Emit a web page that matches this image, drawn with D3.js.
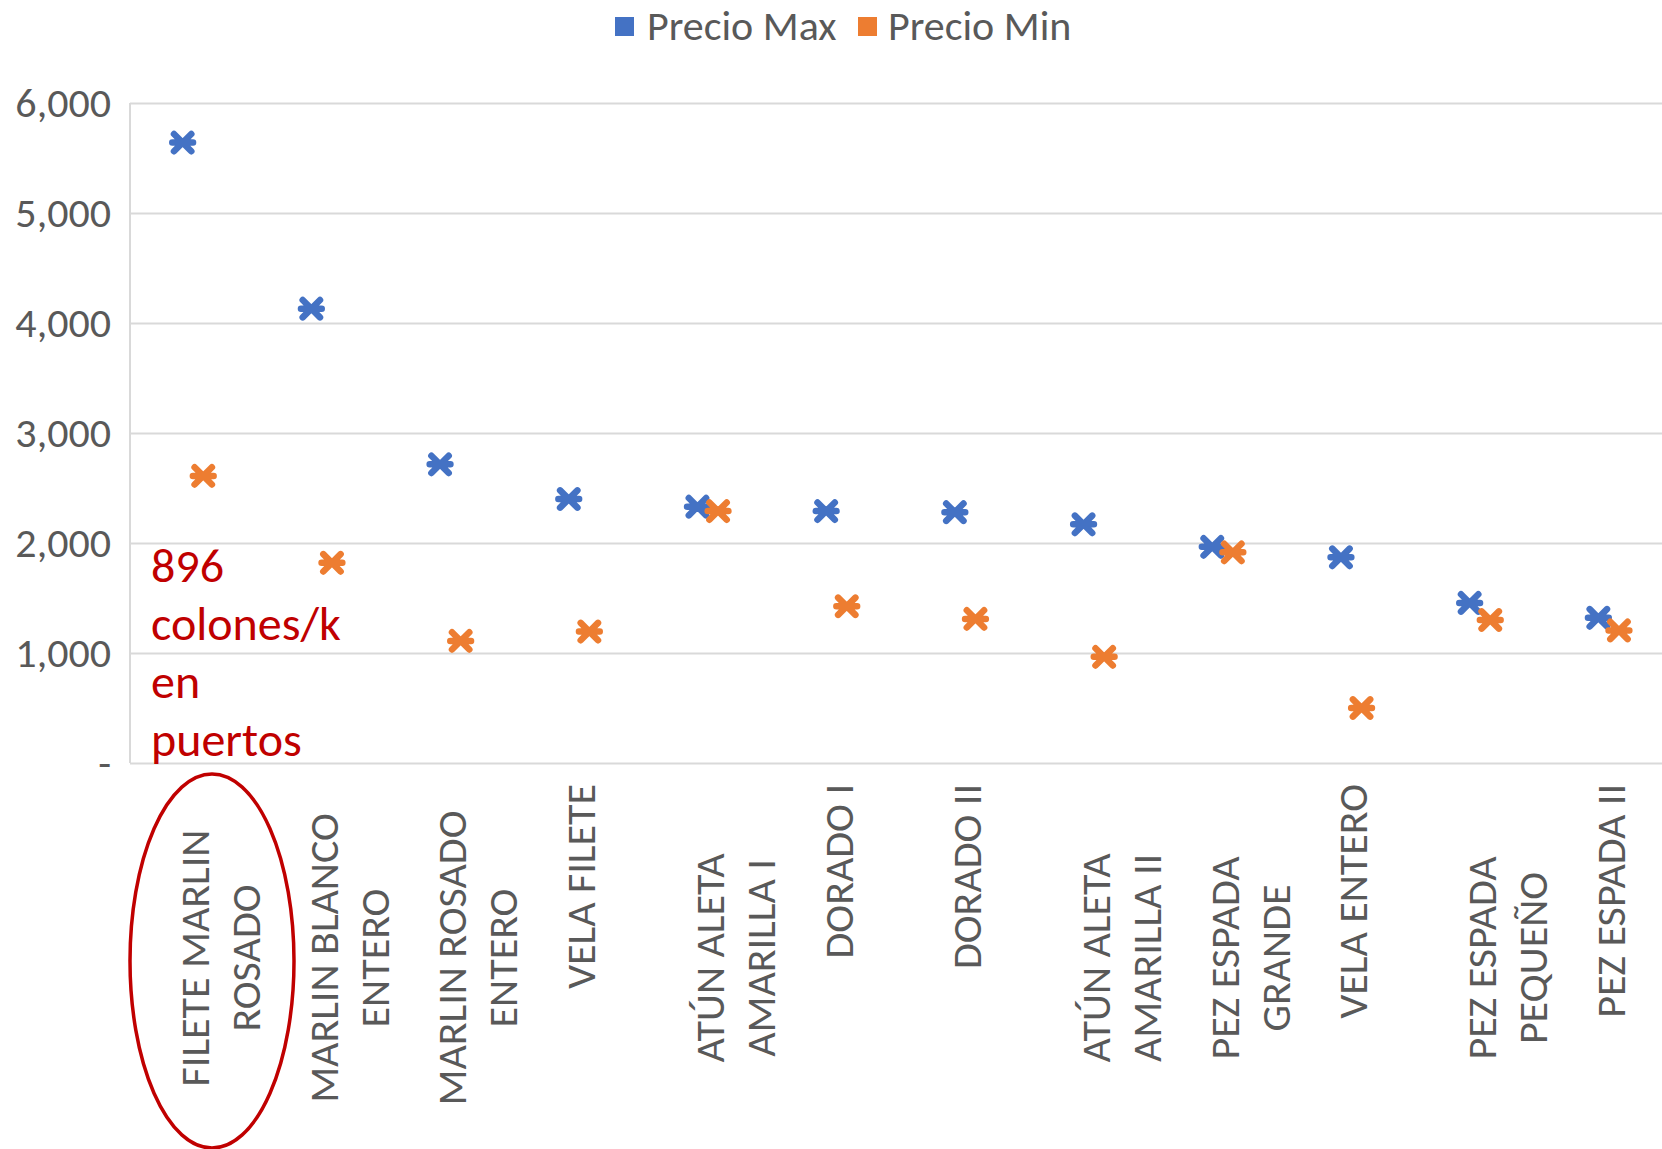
<!DOCTYPE html>
<html>
<head>
<meta charset="utf-8">
<script src="https://cdn.jsdelivr.net/npm/d3@7/dist/d3.min.js"></script>
<style>
  body { margin: 0; background: #fff; }
  text { font-family: Carlito, Calibri, Lato, sans-serif; }
</style>
</head>
<body>
<div id="chart"></div>
<script>
// data
const categories = [
  "FILETE MARLIN ROSADO", "MARLIN BLANCO ENTERO", "MARLIN ROSADO ENTERO", "VELA FILETE",
  "ATÚN ALETA AMARILLA I", "DORADO I", "DORADO II", "ATÚN ALETA AMARILLA II",
  "PEZ ESPADA GRANDE", "VELA ENTERO", "PEZ ESPADA PEQUEÑO", "PEZ ESPADA II"
];
const categoryLines = [
  ["FILETE MARLIN", "ROSADO"], ["MARLIN BLANCO", "ENTERO"], ["MARLIN ROSADO", "ENTERO"], ["VELA FILETE"],
  ["ATÚN ALETA", "AMARILLA I"], ["DORADO I"], ["DORADO II"], ["ATÚN ALETA", "AMARILLA II"],
  ["PEZ ESPADA", "GRANDE"], ["VELA ENTERO"], ["PEZ ESPADA", "PEQUEÑO"], ["PEZ ESPADA II"]
];
const seriesNames = ["Precio Max", "Precio Min"];
const precioMax = [5640, 4130, 2715, 2400, 2330, 2290, 2280, 2170, 1965, 1870, 1455, 1320];
const precioMin = [2610, 1820, 1110, 1195, 2290, 1425, 1310, 965, 1915, 500, 1300, 1205];
const yTicks = [0, 1000, 2000, 3000, 4000, 5000, 6000];
const noteLines = ["896", "colones/k", "en", "puertos"];

const colors = { "Precio Max": "#4472C4", "Precio Min": "#ED7D31" };
const textColor = "#595959";
const gridColor = "#D9D9D9";
const noteColor = "#C00000";
const fs = 42;

const W = 1662, H = 1149;
const plot = { left: 130, top: 103, bottom: 763, band: 128.7 };

const svg = d3.select("#chart")
  .append("svg")
  .attr("width", W)
  .attr("height", H);

// scales
const x = d3.scaleBand()
  .domain(categories)
  .range([plot.left, plot.left + plot.band * categories.length]);

const xs = d3.scalePoint()
  .domain(seriesNames)
  .range([-11.7, 8.9]);

const y = d3.scaleLinear()
  .domain([0, 6000])
  .range([plot.bottom, plot.top]);

const plotW = W - plot.left + 20;

// gridlines + y labels
const yAxis = svg.append("g")
  .attr("transform", `translate(${plot.left},0)`)
  .call(d3.axisLeft(y)
    .tickValues(yTicks)
    .tickSize(-plotW)
    .tickPadding(19)
    .tickFormat(d => d === 0 ? "-" : d3.format(",")(d)));
yAxis.select(".domain").remove();
yAxis.selectAll("line").attr("stroke", gridColor).attr("stroke-width", 2);
yAxis.selectAll("text")
  .attr("fill", textColor)
  .style("font-size", fs + "px");

// axis line
svg.append("line")
  .attr("x1", plot.left).attr("x2", plot.left)
  .attr("y1", plot.top).attr("y2", plot.bottom)
  .attr("stroke", gridColor).attr("stroke-width", 2);

// category labels (rotated)
const catG = svg.append("g");
categories.forEach((c, i) => {
  const cx = x(c) + x.bandwidth() / 2;
  const lines = categoryLines[i];
  const single = lines.length === 1;
  const yy = single ? 784 : 958;
  lines.forEach((ln, j) => {
    catG.append("text")
      .attr("transform", `translate(${cx + j * 51},${yy}) rotate(-90)`)
      .attr("text-anchor", single ? "end" : "middle")
      .attr("dy", "0.35em")
      .attr("fill", textColor)
      .style("font-size", fs + "px")
      .text(ln);
  });
});

// markers
const markerX = {
  draw(ctx, size) {
    const r = Math.sqrt(size) / 2;
    ctx.moveTo(-r, -r); ctx.lineTo(r, r);
    ctx.moveTo(-r, r); ctx.lineTo(r, -r);
    ctx.moveTo(-r * 1.2, 0); ctx.lineTo(r * 1.2, 0);
  }
};
const sym = d3.symbol().type(markerX).size(300);

const series = [
  { name: "Precio Max", values: precioMax },
  { name: "Precio Min", values: precioMin }
];

series.forEach(s => {
  svg.append("g")
    .selectAll("path")
    .data(s.values)
    .enter()
    .append("path")
      .attr("d", sym)
      .attr("transform", (d, i) => `translate(${x(categories[i]) + x.bandwidth() / 2 + xs(s.name)},${y(d)})`)
      .attr("fill", "none")
      .attr("stroke", colors[s.name])
      .attr("stroke-width", 6.5)
      .attr("stroke-linecap", "round");
});

// legend
const legendPos = [{ sq: 615, tx: 647 }, { sq: 858, tx: 888 }];
seriesNames.forEach((n, i) => {
  svg.append("rect")
    .attr("x", legendPos[i].sq).attr("y", 17)
    .attr("width", 19).attr("height", 19)
    .attr("fill", colors[n]);
  svg.append("text")
    .attr("x", legendPos[i].tx).attr("y", 40)
    .attr("fill", textColor)
    .style("font-size", fs + "px")
    .text(n);
});

// red note
svg.append("g")
  .selectAll("text")
  .data(noteLines)
  .enter()
  .append("text")
    .attr("x", 151)
    .attr("y", (d, i) => 582 + i * 58)
    .attr("fill", noteColor)
    .style("font-size", "48px")
    .text(d => d);

// red ellipse around first category
svg.append("ellipse")
  .attr("cx", 212).attr("cy", 961)
  .attr("rx", 82).attr("ry", 187)
  .attr("fill", "none")
  .attr("stroke", noteColor)
  .attr("stroke-width", 3.5);
</script>
</body>
</html>
